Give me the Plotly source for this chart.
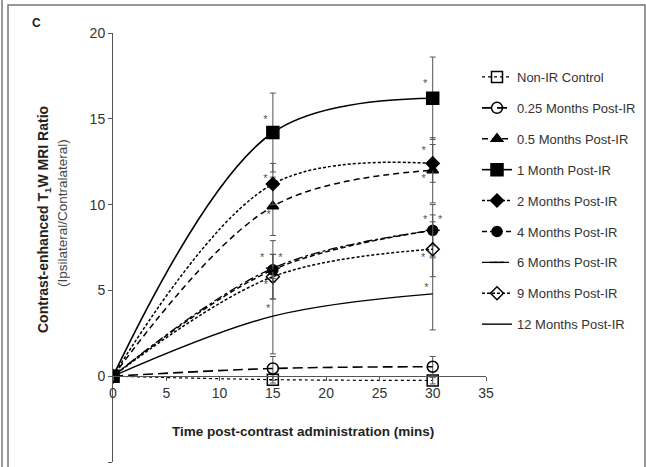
import plotly.graph_objects as go

# ---------------- data ----------------
time_min = [0, 15, 30]

series_names = [
    "Non-IR Control",
    "0.25 Months Post-IR",
    "0.5 Months Post-IR",
    "1 Month Post-IR",
    "2 Months Post-IR",
    "4 Months Post-IR",
    "6 Months Post-IR",
    "9 Months Post-IR",
    "12 Months Post-IR",
]

nonir_vals = [0, -0.2, -0.25]
m025_vals = [0, 0.45, 0.55]
m05_vals = [0, 9.9, 12.0]
m1_vals = [0, 14.2, 16.2]
m2_vals = [0, 11.2, 12.4]
m4_vals = [0, 6.2, 8.5]
m6_vals = [0, 6.3, 8.5]
m9_vals = [0, 5.8, 7.4]
m12_vals = [0, 3.5, 4.8]

nonir_err = [0, 0.2, 0.2]
m025_err = [0, 0.7, 0.6]
m05_err = [0, 1.7, 1.9]
m1_err = [0, 2.3, 2.4]
m2_err = [0, 1.2, 1.1]
m4_err = [0, 1.7, 1.5]
m6_err = [0, 0.8, 0.9]
m9_err = [0, 1.3, 1.6]
m12_err = [0, 2.2, 2.1]

x_ticks = [0, 5, 10, 15, 20, 25, 30, 35]
y_ticks = [-5, 0, 5, 10, 15, 20]

# asterisk (significance) positions
star_x = [14.3, 14.3, 14.6, 14.0, 15.7, 14.35, 14.55,
          29.3, 29.15, 29.15, 29.3, 30.7, 29.1, 29.4]
star_y = [14.9, 11.5, 9.4, 6.9, 6.9, 5.3, 3.9,
          17.0, 13.1, 11.5, 9.1, 9.1, 6.9, 5.1]

# ---------------- styles ----------------
values = [nonir_vals, m025_vals, m05_vals, m1_vals, m2_vals,
          m4_vals, m6_vals, m9_vals, m12_vals]
errors = [nonir_err, m025_err, m05_err, m1_err, m2_err,
          m4_err, m6_err, m9_err, m12_err]
styles = [
    dict(dash="dot", width=1.2, symbol="square-open", size=11, mode="lines+markers"),
    dict(dash="10px,5px", width=1.6, symbol="circle-open", size=11, mode="lines+markers"),
    dict(dash="6px,4px", width=1.5, symbol="triangle-up", size=10, mode="lines+markers"),
    dict(dash="solid", width=1.6, symbol="square", size=12, mode="lines+markers"),
    dict(dash="3px,2px", width=1.5, symbol="diamond", size=10, mode="lines+markers"),
    dict(dash="5px,3px", width=1.5, symbol="circle", size=10, mode="lines+markers"),
    dict(dash="dashdot", width=1.3, symbol="line-ew", size=10, mode="lines+markers"),
    dict(dash="3px,2px", width=1.5, symbol="diamond-open", size=10, mode="lines+markers"),
    dict(dash="solid", width=1.4, symbol="circle", size=1, mode="lines"),
]

fig = go.Figure()
for name, vals, err, st in zip(series_names, values, errors, styles):
    fig.add_trace(go.Scatter(
        x=time_min, y=vals, name=name, mode=st["mode"],
        legendgroup=name,
        line=dict(color="black", width=st["width"], dash=st["dash"],
                  shape="spline", smoothing=1.0),
        marker=dict(symbol=st["symbol"], size=st["size"], color="black",
                    line=dict(color="black", width=1.5)),
        error_y=dict(type="data", array=err, visible=True,
                     color="#555", thickness=1, width=3),
    ))

# significance stars
fig.add_trace(go.Scatter(
    x=star_x, y=star_y, mode="text", text=["*"] * len(star_x),
    textfont=dict(size=11, color="#555", family="Liberation Sans"),
    showlegend=False, hoverinfo="skip"))

# ---------------- layout ----------------
L, R, T, B = 113, 160, 33, 5
W, H = 646, 467
pw = W - L - R
ph = H - T - B


def px_x(p):
    return (p - L) / pw


def px_y(p):
    return (H - B - p) / ph


font_fam = "Liberation Sans, Arial, sans-serif"

fig.update_layout(
    width=W, height=H,
    margin=dict(l=L, r=R, t=T, b=B),
    paper_bgcolor="white", plot_bgcolor="white",
    font=dict(family=font_fam, color="#333"),
    xaxis=dict(range=[0, 35], tickvals=x_ticks, showgrid=False, zeroline=False,
               showline=True, linecolor="#555", linewidth=1,
               ticks="outside", ticklen=4, tickcolor="#555",
               tickfont=dict(size=14, color="#333"),
               anchor="free", position=0.2),
    yaxis=dict(range=[-5, 20], tickvals=y_ticks, showgrid=False, zeroline=False,
               showline=True, linecolor="#555", linewidth=1,
               ticks="outside", ticklen=4, tickcolor="#555",
               tickfont=dict(size=14, color="#333")),
    legend=dict(x=px_x(477), y=px_y(62), xanchor="left", yanchor="top",
                font=dict(size=13, color="#333"), tracegroupgap=11,
                bgcolor="rgba(0,0,0,0)"),
    showlegend=True,
)

annotations = [
    dict(text="<b>C</b>", x=px_x(36), y=px_y(23), xref="paper", yref="paper",
         xanchor="center", yanchor="middle",
         showarrow=False, font=dict(size=12, color="#222")),
    dict(text="<b>Contrast-enhanced T<sub>1</sub>W MRI Ratio</b>",
         x=px_x(44), y=px_y(220), xref="paper", yref="paper",
         xanchor="center", yanchor="middle",
         showarrow=False, textangle=-90, font=dict(size=14, color="#222")),
    dict(text="(Ipsilateral/Contralateral)",
         x=px_x(62), y=px_y(213), xref="paper", yref="paper",
         xanchor="center", yanchor="middle",
         showarrow=False, textangle=-90, font=dict(size=13.5, color="#444")),
    dict(text="<b>Time post-contrast administration (mins)</b>",
         x=px_x(303), y=px_y(431), xref="paper", yref="paper",
         xanchor="center", yanchor="middle",
         showarrow=False, font=dict(size=13.5, color="#222")),
]
fig.update_layout(annotations=annotations)

fig.update_layout(shapes=[
    dict(type="rect", xref="paper", yref="paper",
         x0=px_x(8), x1=px_x(645), y0=px_y(470), y1=px_y(5),
         line=dict(color="#777", width=1.5)),
    dict(type="line", xref="paper", yref="paper",
         x0=px_x(2), x1=px_x(2), y0=px_y(470), y1=px_y(0),
         line=dict(color="#777", width=1.5)),
])

fig.write_html("out.html")
